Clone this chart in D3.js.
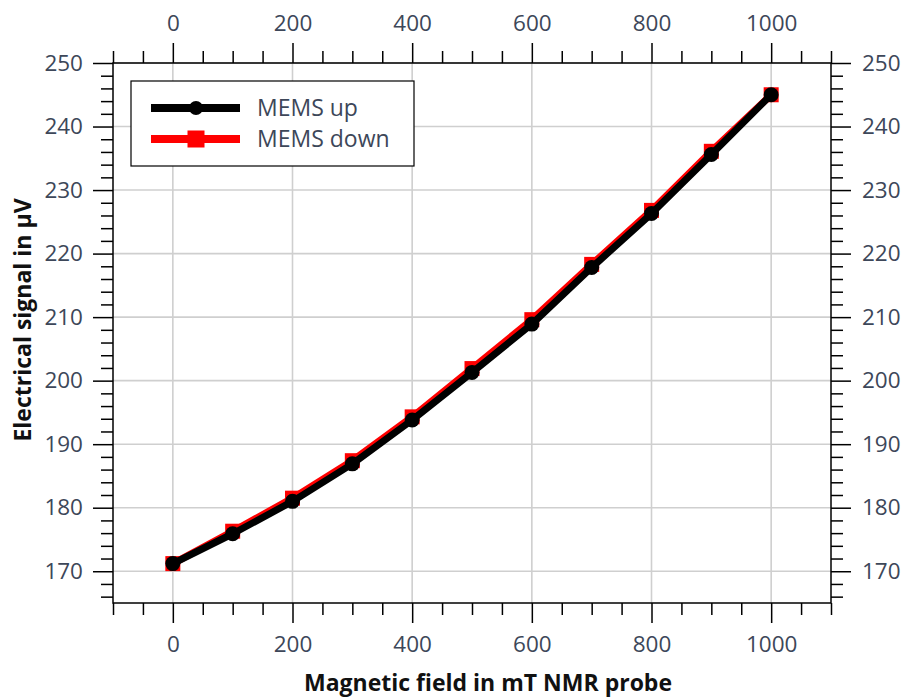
<!DOCTYPE html>
<html>
<head>
<meta charset="utf-8">
<script src="https://cdn.jsdelivr.net/npm/d3@7"></script>
<style>
  html, body { margin: 0; padding: 0; background: #fff; }
  svg { display: block; }
  text { font-family: "Open Sans", "Noto Sans", sans-serif; }
</style>
</head>
<body>
<svg id="chart" width="906" height="698"></svg>
<script>
// Magnetic field (mT) measured with the NMR probe
const fieldValues = [0, 100, 200, 300, 400, 500, 600, 700, 800, 900, 1000];
// Electrical signal (µV) while sweeping the field up and down
const memsUp   = [171.2, 175.9, 181.0, 186.9, 193.8, 201.3, 208.9, 217.8, 226.3, 235.6, 245.0];
const memsDown = [171.2, 176.3, 181.5, 187.4, 194.3, 201.9, 209.6, 218.3, 226.8, 236.1, 245.0];

const xMajorTicks = [0, 200, 400, 600, 800, 1000];
const yMajorTicks = [170, 180, 190, 200, 210, 220, 230, 240, 250];

const seriesNames = ["MEMS up", "MEMS down"];

const W = 906, H = 698;
const margin = { left: 113, right: 75, top: 63, bottom: 95 };
const plotW = W - margin.left - margin.right;
const plotH = H - margin.top - margin.bottom;

const svg = d3.select("#chart");
const g = svg.append("g").attr("transform", `translate(${margin.left},${margin.top})`);

const x = d3.scaleLinear().domain([-100, 1100]).range([0, plotW]);
const y = d3.scaleLinear().domain([165, 250]).range([plotH, 0]);

const labelColor = "#3d4759";
const majorLen = 20, minorLen = 12;

// grid at major ticks
g.append("g").selectAll("line").data(xMajorTicks).join("line")
  .attr("x1", d => x(d)).attr("x2", d => x(d))
  .attr("y1", 0).attr("y2", plotH)
  .attr("stroke", "#cfcfcf").attr("stroke-width", 1.6);
g.append("g").selectAll("line").data(yMajorTicks).join("line")
  .attr("x1", 0).attr("x2", plotW)
  .attr("y1", d => y(d)).attr("y2", d => y(d))
  .attr("stroke", "#cfcfcf").attr("stroke-width", 1.6);

// axes: minor ticks first, then major ticks with labels
const xMinor = d3.range(-100, 1101, 50).filter(v => !xMajorTicks.includes(v));
const yMinor = d3.range(166, 251, 2).filter(v => !yMajorTicks.includes(v));

function styleAxis(sel) {
  sel.select(".domain").remove();
  sel.selectAll(".tick line").attr("stroke", "#000").attr("stroke-width", 1.5);
  sel.selectAll(".tick text").attr("fill", labelColor).attr("font-size", 22.5);
}

// bottom
g.append("g").attr("transform", `translate(0,${plotH})`)
  .call(d3.axisBottom(x).tickValues(xMinor).tickSize(minorLen).tickFormat(""))
  .call(styleAxis);
g.append("g").attr("transform", `translate(0,${plotH})`)
  .call(d3.axisBottom(x).tickValues(xMajorTicks).tickSize(majorLen).tickPadding(13).tickFormat(d3.format("d")))
  .call(styleAxis);
// top
g.append("g")
  .call(d3.axisTop(x).tickValues(xMinor).tickSize(minorLen).tickFormat(""))
  .call(styleAxis);
g.append("g")
  .call(d3.axisTop(x).tickValues(xMajorTicks).tickSize(majorLen).tickPadding(12).tickFormat(d3.format("d")))
  .call(styleAxis);
// left
g.append("g")
  .call(d3.axisLeft(y).tickValues(yMinor).tickSize(minorLen).tickFormat(""))
  .call(styleAxis);
g.append("g")
  .call(d3.axisLeft(y).tickValues(yMajorTicks).tickSize(majorLen).tickPadding(10).tickFormat(d3.format("d")))
  .call(styleAxis);
// right
g.append("g").attr("transform", `translate(${plotW},0)`)
  .call(d3.axisRight(y).tickValues(yMinor).tickSize(minorLen).tickFormat(""))
  .call(styleAxis);
g.append("g").attr("transform", `translate(${plotW},0)`)
  .call(d3.axisRight(y).tickValues(yMajorTicks).tickSize(majorLen).tickPadding(11).tickFormat(d3.format("d")))
  .call(styleAxis);

// plot frame
g.append("rect").attr("x", 0).attr("y", 0).attr("width", plotW).attr("height", plotH)
  .attr("fill", "none").attr("stroke", "#000").attr("stroke-width", 1.5);

// series
const line = d3.line().x((d, i) => x(fieldValues[i])).y(d => y(d));
const sqSize = 15;

// MEMS down (red, squares) underneath
g.append("path").datum(memsDown).attr("d", line)
  .attr("fill", "none").attr("stroke", "#ff0000").attr("stroke-width", 7)
  .attr("stroke-linejoin", "round");
g.append("g").selectAll("rect").data(memsDown).join("rect")
  .attr("x", (d, i) => x(fieldValues[i]) - sqSize / 2)
  .attr("y", d => y(d) - sqSize / 2)
  .attr("width", sqSize).attr("height", sqSize).attr("fill", "#ff0000");

// MEMS up (black, circles) on top
g.append("path").datum(memsUp).attr("d", line)
  .attr("fill", "none").attr("stroke", "#000").attr("stroke-width", 7)
  .attr("stroke-linejoin", "round");
g.append("g").selectAll("circle").data(memsUp).join("circle")
  .attr("cx", (d, i) => x(fieldValues[i])).attr("cy", d => y(d))
  .attr("r", 7.5).attr("fill", "#000");

// legend
const lg = svg.append("g").attr("transform", "translate(131,81)");
lg.append("rect").attr("width", 283).attr("height", 85)
  .attr("fill", "#fff").attr("stroke", "#000").attr("stroke-width", 1.2);
const legendRows = [
  { name: seriesNames[0], color: "#000", shape: "circle", y: 27 },
  { name: seriesNames[1], color: "#ff0000", shape: "square", y: 58 }
];
legendRows.forEach(r => {
  lg.append("line").attr("x1", 20).attr("x2", 109).attr("y1", r.y).attr("y2", r.y)
    .attr("stroke", r.color).attr("stroke-width", 8);
  if (r.shape === "circle") {
    lg.append("circle").attr("cx", 65).attr("cy", r.y).attr("r", 7).attr("fill", r.color);
  } else {
    lg.append("rect").attr("x", 65 - 8.5).attr("y", r.y - 8.5).attr("width", 17).attr("height", 17).attr("fill", r.color);
  }
  lg.append("text").attr("x", 126).attr("y", r.y).attr("dy", "0.35em")
    .attr("font-size", 23).attr("fill", labelColor).text(r.name);
});

// axis titles
svg.append("text")
  .attr("x", margin.left + plotW / 2 + 16).attr("y", 691)
  .attr("text-anchor", "middle").attr("font-size", 23).attr("font-weight", 700)
  .attr("fill", "#111").text("Magnetic field in mT NMR probe");
svg.append("text")
  .attr("transform", `translate(31,${margin.top + 257}) rotate(-90)`)
  .attr("text-anchor", "middle").attr("font-size", 23).attr("font-weight", 700)
  .attr("fill", "#111").text("Electrical signal in µV");
</script>
</body>
</html>
